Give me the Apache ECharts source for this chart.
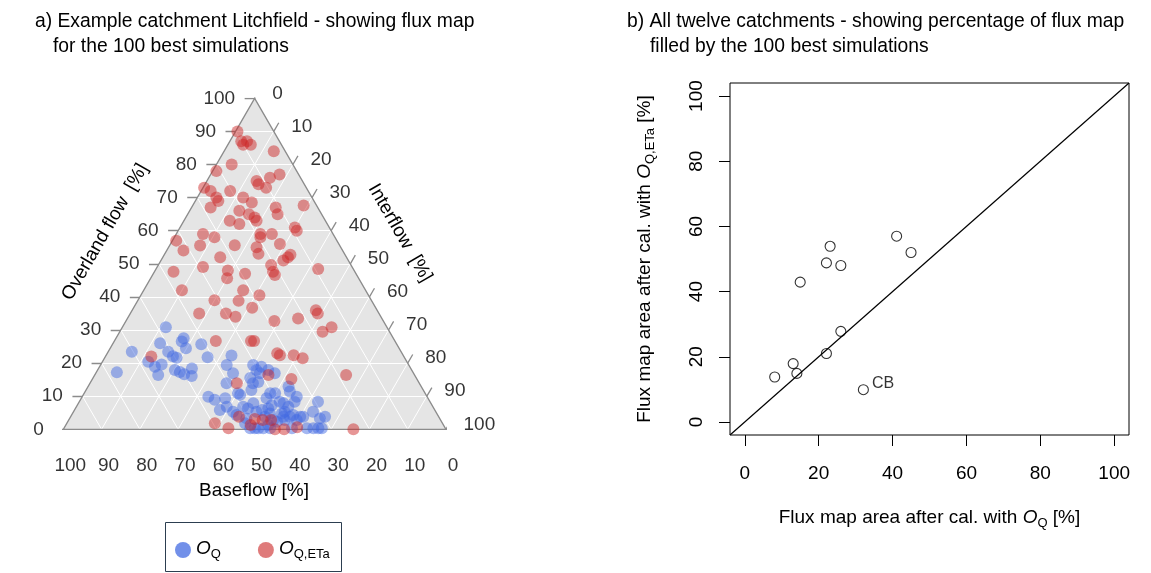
<!DOCTYPE html>
<html><head><meta charset="utf-8">
<script src="https://cdn.jsdelivr.net/npm/echarts@6/dist/echarts.min.js"></script>
<style>html,body{margin:0;padding:0;background:#fff}#c{width:1151px;height:573px}</style>
</head><body><div id="c"></div><script>
// ---------- DATA ----------
// Ternary panel (a): each point = [Overland flow %, Interflow %]; Baseflow = 100 - both
const oqPoints = [
 [30.8,11.4],[23.4,6.2],[17.2,5.4],[26,12.3],[27.5,17.7],[26.5,17.7],[24.5,19.8],[25.7,23.2],[20.4,12],[18.9,14.5],
 [16.4,16.6],[23.4,15.7],[22.1,17.6],[17.9,20.2],[17.3,21.8],[16.6,23.3],[18.4,24.4],[16.1,25.5],[21.6,18.8],[19.6,15.9],
 [21.8,26.8],[22.3,32.8],[19.4,33],[16.9,35.9],[19.4,39.9],[17.9,41.5],[18.9,42.3],[17.9,44.6],[16.9,46.8],[13.9,35.7],
 [13.9,42.6],[11.9,43.2],[10.9,40.2],[9.8,33],[8.9,35.1],[9.4,37.6],[6.8,39.3],[5.3,41.7],[4.3,43.1],[6.8,43.6],
 [7.9,45.7],[5.3,47.8],[6.3,50.4],[7.3,50.8],[4.8,51.6],[3.8,50.8],[8.3,52.4],[5.3,55.2],[6.8,55.4],[3.8,57.3],
 [12.9,52.4],[11.4,53.5],[9.8,56.1],[0.3,49.9],[0.3,52.1],[1.3,52.9],[2.3,54.7],[1.8,46.6],[2.8,59.6],[8.3,56.3],
 [8.3,62.4],[5.3,62.6],[3.3,65.4],[3.8,66.5],[3.8,60],[0.3,63.5],[0.3,65.2],[0.3,66.5],[0.3,67.4],[7.9,53.6],
 [4.8,54.7],[2.8,56.5],[0.3,48.7],[0.3,50.8],[0.3,53.9],[0.3,59.6],[3.3,46.2],[2.8,53.5],[3.8,55.6],[4.3,57.9],
 [16.9,42.9],[15.5,41.1],[14.3,43.8],[9.4,48.4],[10.9,49.9],[10.9,48.6],[10.4,41],[6.3,45.1],[3.8,60.8],[5.8,49],[5.8,38]
];
const oqetaPoints = [
 [90,0.5],[87,3],[87,4.5],[86,6],[86,4],[84,13],[80,4],[78,1],[77,18],[76,16],
 [75,13],[74,14],[73,16.5],[73,0.3],[72,2.5],[72,7.6],[70,5],[69,6],[67,5],[70,12],
 [68.5,15],[67.6,29],[67,22],[65,23.5],[66,13],[65,16],[64,18],[63,19],[63,12],[62,15],
 [61,30],[60,31],[59,22],[59,25],[58,22.5],[57,1],[59,7],[58,10.5],[55.5,8],[54,4.4],
 [55.6,17],[55,23],[53,24.5],[56,28.6],[52.7,33],[52,32.7],[51,32],[52,15],[49.6,29.5],[47.6,31],
 [46.6,32],[49,12],[48,19],[45.6,20],[48.4,42.4],[47.6,5],[47,24],[42,10],[42,26],[40.5,31],
 [39,20],[38.8,26.4],[36.7,31],[35,18],[35,25],[34,28],[36,48],[35,49],[33.5,44.6],[32.7,38.8],
 [30.8,54.7],[29.5,53],[26.7,26.5],[26.7,35.7],[26.7,36.5],[22,12],[23,44.4],[22.4,45.4],[22.4,49],[21.5,51.8],
 [16.4,65.7],[16.4,45.4],[15.2,52],[13.9,38.4],[1.8,38.7],[0.3,43],[3.8,44],[1.3,48.3],[3.1,48.5],[2.8,50.7],
 [2.8,52.9],[0,55.3],[0,57.7],[0.6,60.8],[0,75.8]
];
const ternaryTicks = [0,10,20,30,40,50,60,70,80,90,100];

// Scatter panel (b)
const areaOQ    = [8.1,13.1,14.1,15,22.1,23.1,26,22.1,26,41.1,45,32.1];
const areaOQETa = [13.8,17.9,14.9,42.9,48.8,53.9,48,21,27.8,57,52,9.9];
const catchmentLabels = ['','','','','','','','','','','','CB'];
const scatterTicks = [0,20,40,60,80,100];
const scatterRange = [-4,104];

// ---------- HELPERS ----------
const FONT = '"Liberation Sans", Arial, sans-serif';
const SQ = Math.sqrt(3) / 2;
function tern(o, i) { return [(i + o / 2) / 100, (o / 100) * SQ]; }
const TL = 10 / 382.7;

const gridSegs = [];
ternaryTicks.slice(1, -1).forEach(t => {
  gridSegs.push({coords: [tern(t, 0), tern(t, 100 - t)]});
  gridSegs.push({coords: [tern(0, t), tern(100 - t, t)]});
  gridSegs.push({coords: [tern(0, 100 - t), tern(100 - t, 0)]});
});
const tickSegs = [];
ternaryTicks.forEach(t => {
  const a = tern(t, 0); tickSegs.push({coords: [a, [a[0] - TL, a[1]]]});
  const b = tern(100 - t, t); tickSegs.push({coords: [b, [b[0] + TL * 0.5, b[1] + TL * SQ]]});
  const c = tern(0, 100 - t); tickSegs.push({coords: [c, [c[0] + TL * 0.5, c[1] - TL * SQ]]});
});
const verts = [tern(100, 0), tern(0, 0), tern(0, 100)];

const numStyle = {fontSize: 19, color: '#000', fontFamily: FONT};
const rich = {
  it: {fontStyle: 'italic', fontSize: 19, color: '#000', fontFamily: FONT, verticalAlign: 'top', lineHeight: 22},
  n: {fontSize: 19, color: '#000', fontFamily: FONT, verticalAlign: 'top', lineHeight: 22},
  sub: {fontSize: 13, color: '#000', fontFamily: FONT, verticalAlign: 'bottom', lineHeight: 13}
};

function labelSeries(points, texts, pos, dist, offset) {
  return {
    type: 'scatter', xAxisIndex: 0, yAxisIndex: 0, symbolSize: 1, silent: true, z: 5,
    itemStyle: {color: 'rgba(0,0,0,0)'},
    data: points.map((p, k) => ({value: p, name: String(texts[k])})),
    label: Object.assign({show: true, formatter: '{b}', position: pos, distance: dist, offset: offset}, numStyle)
  };
}

const chart = echarts.init(document.getElementById('c'), null, {renderer: 'canvas'});
chart.setOption({
  animation: false,
  backgroundColor: '#fff',
  grid: [
    {left: 63.3, top: 98.3, width: 382.7, height: 331, show: false},
    {left: 730, top: 83, width: 399, height: 352, show: true, borderColor: '#000', borderWidth: 1, backgroundColor: 'transparent'}
  ],
  xAxis: [
    {gridIndex: 0, type: 'value', min: 0, max: 1, show: false},
    {gridIndex: 1, type: 'value', min: scatterRange[0], max: scatterRange[1], position: 'bottom',
     axisLine: {show: false, onZero: false}, splitLine: {show: false},
     axisTick: {show: true, inside: false, length: 11, customValues: scatterTicks, lineStyle: {color: '#000'}},
     axisLabel: Object.assign({customValues: scatterTicks, margin: 29}, numStyle),
     name: '{n|Flux map area after cal. with }{it|O}{sub|Q}{n| [%]}', nameLocation: 'middle', nameGap: 73,
     nameTextStyle: {rich: rich}}
  ],
  yAxis: [
    {gridIndex: 0, type: 'value', min: 0, max: SQ, show: false},
    {gridIndex: 1, type: 'value', min: scatterRange[0], max: scatterRange[1], position: 'left',
     axisLine: {show: false, onZero: false}, splitLine: {show: false},
     axisTick: {show: true, inside: false, length: 11, customValues: scatterTicks, lineStyle: {color: '#000'}},
     axisLabel: Object.assign({customValues: scatterTicks, margin: 24, rotate: 90}, numStyle),
     name: '{n|Flux map area after cal. with }{it|O}{sub|Q,ETa}{n| [%]}', nameLocation: 'middle', nameGap: 73, nameRotate: 90,
     nameTextStyle: {rich: rich}}
  ],
  legend: {
    data: [{name: 'OQ', itemStyle: {color: '#4f74e3'}}, {name: 'OQETa', itemStyle: {color: '#d75a5a'}}],
    left: 175, top: 539, itemWidth: 16, itemHeight: 16, icon: 'circle', itemGap: 37, padding: 0,
    formatter: n => n === 'OQ' ? '{it|O}{sub|Q}' : '{it|O}{sub|Q,ETa}',
    textStyle: {rich: rich}
  },
  graphic: [
    {type: 'text', left: 35, top: 12, style: {text: 'a) Example catchment Litchfield - showing flux map', font: '19.3px ' + FONT, fill: '#000'}},
    {type: 'text', left: 53, top: 37, style: {text: 'for the 100 best simulations', font: '19.3px ' + FONT, fill: '#000'}},
    {type: 'text', left: 627, top: 12, style: {text: 'b) All twelve catchments - showing percentage of flux map', font: '19.3px ' + FONT, fill: '#000'}},
    {type: 'text', left: 650, top: 37, style: {text: 'filled by the 100 best simulations', font: '19.3px ' + FONT, fill: '#000'}},
    {type: 'text', x: 105, y: 232, rotation: Math.PI / 3, style: {text: 'Overland flow  [%]', font: '19px ' + FONT, fill: '#000', align: 'center', verticalAlign: 'middle'}},
    {type: 'text', x: 400, y: 233, rotation: -Math.PI / 3, style: {text: 'Interflow  [%]', font: '19px ' + FONT, fill: '#000', align: 'center', verticalAlign: 'middle'}},
    {type: 'text', x: 254, y: 491, style: {text: 'Baseflow [%]', font: '19px ' + FONT, fill: '#000', align: 'center', verticalAlign: 'middle'}},
    {type: 'rect', shape: {x: 165.5, y: 522.5, width: 176, height: 49}, style: {fill: 'none', stroke: '#2c3e50', lineWidth: 1}}
  ],
  series: [
    {type: 'custom', xAxisIndex: 0, yAxisIndex: 0, silent: true, z: 1, data: [0],
     renderItem: (p, api) => ({type: 'polygon', shape: {points: verts.map(v => api.coord(v))}, style: {fill: '#e5e5e5'}})},
    {type: 'lines', coordinateSystem: 'cartesian2d', xAxisIndex: 0, yAxisIndex: 0, silent: true, z: 2,
     data: gridSegs, lineStyle: {color: '#ffffff', width: 1, opacity: 1}},
    {type: 'custom', xAxisIndex: 0, yAxisIndex: 0, silent: true, z: 3, data: [0],
     renderItem: (p, api) => ({type: 'polygon', shape: {points: verts.map(v => api.coord(v))}, style: {fill: 'none', stroke: '#8c8c8c', lineWidth: 1.3}})},
    {type: 'lines', coordinateSystem: 'cartesian2d', xAxisIndex: 0, yAxisIndex: 0, silent: true, z: 3,
     data: tickSegs, lineStyle: {color: '#8c8c8c', width: 1.3, opacity: 1}},
    labelSeries(ternaryTicks.map(t => tern(t, 0)), ternaryTicks, 'left', 19, [0, 0]),
    labelSeries(ternaryTicks.map(t => tern(100 - t, t)), ternaryTicks, 'right', 17, [0, -5]),
    labelSeries(ternaryTicks.map(t => tern(0, 100 - t)), ternaryTicks, 'bottom', 26, [7, 0]),
    {name: 'OQ', type: 'scatter', xAxisIndex: 0, yAxisIndex: 0, z: 4, symbolSize: 12,
     itemStyle: {color: 'rgba(65,105,225,0.6)'}, data: oqPoints.map(p => tern(p[0], p[1]))},
    {name: 'OQETa', type: 'scatter', xAxisIndex: 0, yAxisIndex: 0, z: 4, symbolSize: 12,
     itemStyle: {color: 'rgba(205,35,35,0.6)'}, data: oqetaPoints.map(p => tern(p[0], p[1]))},
    {type: 'line', xAxisIndex: 1, yAxisIndex: 1, symbol: 'none', silent: true, z: 2,
     lineStyle: {color: '#000', width: 1.2}, data: [[scatterRange[0], scatterRange[0]], [scatterRange[1], scatterRange[1]]]},
    {type: 'scatter', xAxisIndex: 1, yAxisIndex: 1, z: 4, symbolSize: 10,
     itemStyle: {color: 'rgba(0,0,0,0)', borderColor: '#000', borderWidth: 1.1},
     data: areaOQ.map((x, k) => ({value: [x, areaOQETa[k]], name: catchmentLabels[k]})),
     label: {show: true, formatter: '{b}', position: 'right', distance: 3, offset: [0, -6], fontSize: 16, color: '#000', fontFamily: FONT}}
  ]
});
</script></body></html>
